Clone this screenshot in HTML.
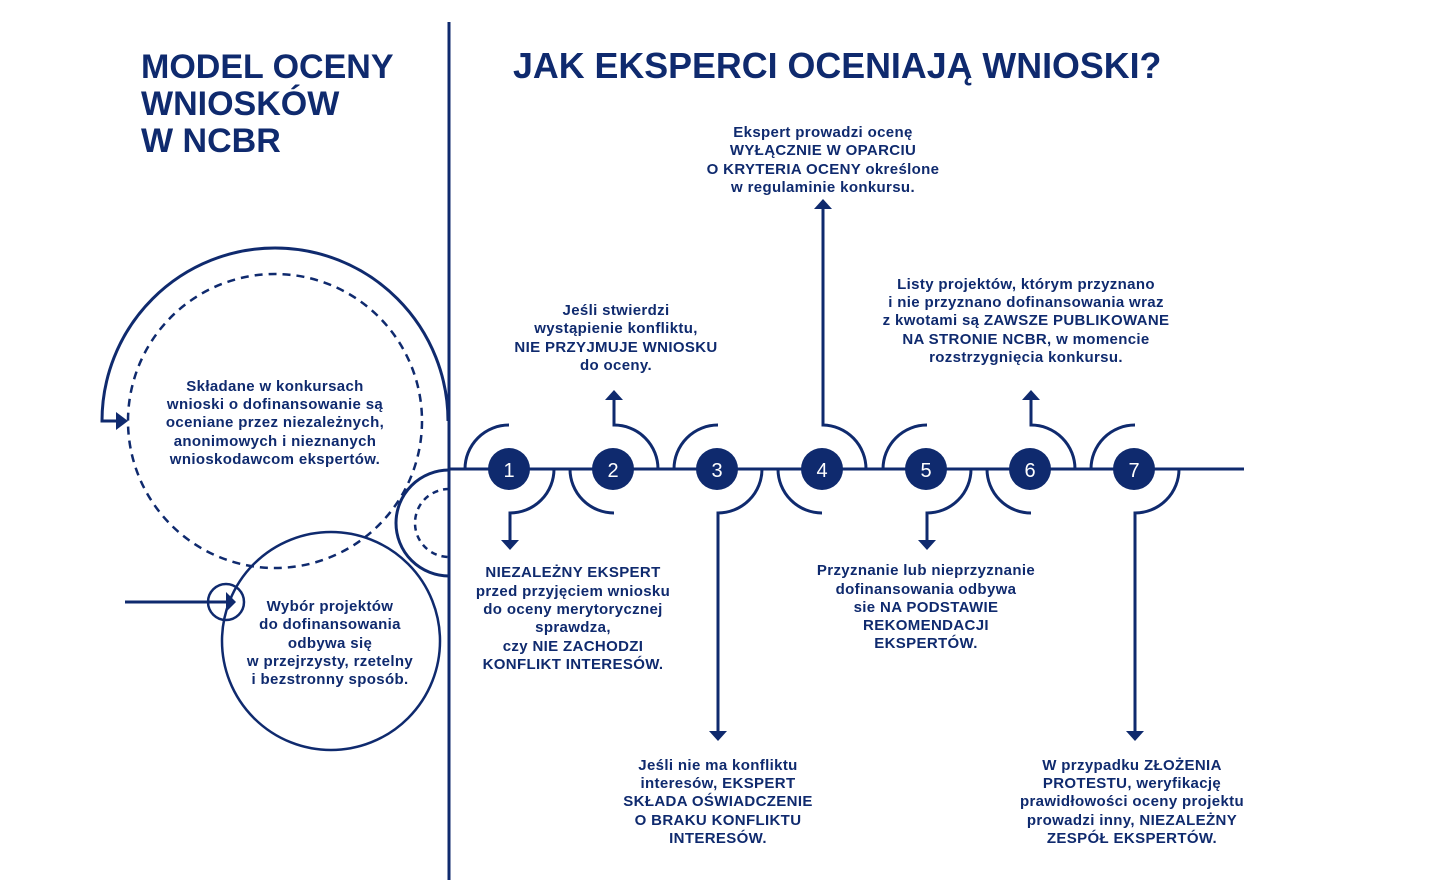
<!DOCTYPE html>
<html><head><meta charset="utf-8"><style>
html,body{margin:0;padding:0;background:#fff;}
svg{display:block;}
text{font-family:"Liberation Sans",sans-serif;font-weight:bold;fill:#0f2a6e;}
.t{font-size:15px;letter-spacing:0.35px;text-anchor:middle;}
</style></head><body>
<svg width="1447" height="880" viewBox="0 0 1447 880" xmlns="http://www.w3.org/2000/svg">
<g fill="none" stroke="#0f2a6e" stroke-width="3">
<line x1="449" y1="22" x2="449" y2="880"/>
<line x1="449" y1="469" x2="1244" y2="469"/>
<path d="M448 421 A173 173 0 0 0 102 421 L102 421 L118 421"/>
<circle cx="275" cy="421" r="147" stroke-dasharray="8 6" stroke-width="2.5"/>
<path d="M449 470 A53 53 0 0 0 449 576"/>
<path d="M449 489 A34 34 0 0 0 449 557" stroke-dasharray="6 5" stroke-width="2.5"/>
<circle cx="331" cy="641" r="109" stroke-width="2.5"/>
<circle cx="226" cy="602" r="18" stroke-width="2.5"/>
<line x1="125" y1="602" x2="228" y2="602"/>
<path d="M465 469 A44 44 0 0 1 509 425"/>
<path d="M554 469 A44 44 0 0 1 510 513 L510 540"/>
<path d="M570 469 A44 44 0 0 0 614 513"/>
<path d="M658 469 A44 44 0 0 0 614 425 L614 400"/>
<path d="M674 469 A44 44 0 0 1 718 425"/>
<path d="M762 469 A44 44 0 0 1 718 513 L718 732"/>
<path d="M778 469 A44 44 0 0 0 822 513"/>
<path d="M866 469 A44 44 0 0 0 823 425 L823 208"/>
<path d="M883 469 A44 44 0 0 1 927 425"/>
<path d="M971 469 A44 44 0 0 1 927 513 L927 540"/>
<path d="M987 469 A44 44 0 0 0 1031 513"/>
<path d="M1075 469 A44 44 0 0 0 1031 425 L1031 400"/>
<path d="M1091 469 A44 44 0 0 1 1135 425"/>
<path d="M1179 469 A44 44 0 0 1 1135 513 L1135 732"/>
</g>
<g fill="#0f2a6e">
<polygon points="116,412 128,421 116,430"/>
<polygon points="226,592 236,602 226,612"/>
<polygon points="501,540 519,540 510,550"/>
<polygon points="605,400 623,400 614,390"/>
<polygon points="709,731 727,731 718,741"/>
<polygon points="814,209 832,209 823,199"/>
<polygon points="918,540 936,540 927,550"/>
<polygon points="1022,400 1040,400 1031,390"/>
<polygon points="1126,731 1144,731 1135,741"/>
<circle cx="509" cy="469" r="21"/><circle cx="613" cy="469" r="21"/><circle cx="717" cy="469" r="21"/>
<circle cx="822" cy="469" r="21"/><circle cx="926" cy="469" r="21"/><circle cx="1030" cy="469" r="21"/><circle cx="1134" cy="469" r="21"/>
</g>
<g style="font-size:20px;text-anchor:middle;">
<text x="509" y="477" style="fill:#fff;font-weight:normal">1</text>
<text x="613" y="477" style="fill:#fff;font-weight:normal">2</text>
<text x="717" y="477" style="fill:#fff;font-weight:normal">3</text>
<text x="822" y="477" style="fill:#fff;font-weight:normal">4</text>
<text x="926" y="477" style="fill:#fff;font-weight:normal">5</text>
<text x="1030" y="477" style="fill:#fff;font-weight:normal">6</text>
<text x="1134" y="477" style="fill:#fff;font-weight:normal">7</text>
</g>
<g style="font-size:34px">
<text x="141" y="78">MODEL OCENY</text>
<text x="141" y="115">WNIOSKÓW</text>
<text x="141" y="152">W NCBR</text>
<text x="513" y="78" style="font-size:35.8px">JAK EKSPERCI OCENIAJĄ WNIOSKI?</text>
</g>
<text class="t"><tspan x="275" y="391">Składane w konkursach</tspan><tspan x="275" y="409">wnioski o dofinansowanie są</tspan><tspan x="275" y="427">oceniane przez niezależnych,</tspan><tspan x="275" y="446">anonimowych i nieznanych</tspan><tspan x="275" y="464">wnioskodawcom ekspertów.</tspan></text>
<text class="t"><tspan x="330" y="611">Wybór projektów</tspan><tspan x="330" y="629">do dofinansowania</tspan><tspan x="330" y="648">odbywa się</tspan><tspan x="330" y="666">w przejrzysty, rzetelny</tspan><tspan x="330" y="684">i bezstronny sposób.</tspan></text>
<text class="t"><tspan x="823" y="137">Ekspert prowadzi ocenę</tspan><tspan x="823" y="155">WYŁĄCZNIE W OPARCIU</tspan><tspan x="823" y="174">O KRYTERIA OCENY określone</tspan><tspan x="823" y="192">w regulaminie konkursu.</tspan></text>
<text class="t"><tspan x="616" y="315">Jeśli stwierdzi</tspan><tspan x="616" y="333">wystąpienie konfliktu,</tspan><tspan x="616" y="352">NIE PRZYJMUJE WNIOSKU</tspan><tspan x="616" y="370">do oceny.</tspan></text>
<text class="t"><tspan x="1026" y="289">Listy projektów, którym  przyznano</tspan><tspan x="1026" y="307">i nie przyznano dofinansowania wraz</tspan><tspan x="1026" y="325">z kwotami są ZAWSZE PUBLIKOWANE</tspan><tspan x="1026" y="344">NA STRONIE NCBR, w momencie</tspan><tspan x="1026" y="362">rozstrzygnięcia konkursu.</tspan></text>
<text class="t"><tspan x="573" y="577">NIEZALEŻNY EKSPERT</tspan><tspan x="573" y="596">przed przyjęciem wniosku</tspan><tspan x="573" y="614">do oceny merytorycznej</tspan><tspan x="573" y="632">sprawdza,</tspan><tspan x="573" y="651">czy NIE ZACHODZI</tspan><tspan x="573" y="669">KONFLIKT INTERESÓW.</tspan></text>
<text class="t"><tspan x="926" y="575">Przyznanie lub nieprzyznanie</tspan><tspan x="926" y="594">dofinansowania odbywa</tspan><tspan x="926" y="612">sie NA PODSTAWIE</tspan><tspan x="926" y="630">REKOMENDACJI</tspan><tspan x="926" y="648">EKSPERTÓW.</tspan></text>
<text class="t"><tspan x="718" y="770">Jeśli nie ma konfliktu</tspan><tspan x="718" y="788">interesów, EKSPERT</tspan><tspan x="718" y="806">SKŁADA OŚWIADCZENIE</tspan><tspan x="718" y="825">O BRAKU KONFLIKTU</tspan><tspan x="718" y="843">INTERESÓW.</tspan></text>
<text class="t"><tspan x="1132" y="770">W przypadku ZŁOŻENIA</tspan><tspan x="1132" y="788">PROTESTU, weryfikację</tspan><tspan x="1132" y="806">prawidłowości oceny projektu</tspan><tspan x="1132" y="825">prowadzi inny, NIEZALEŻNY</tspan><tspan x="1132" y="843">ZESPÓŁ EKSPERTÓW.</tspan></text>
</svg>
</body></html>
